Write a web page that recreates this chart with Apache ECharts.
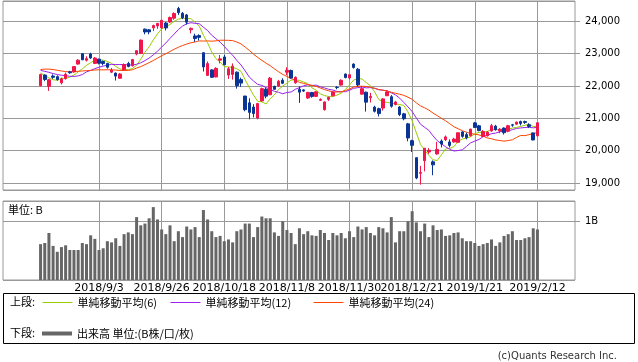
<!DOCTYPE html>
<html><head><meta charset="utf-8">
<script src="https://cdn.jsdelivr.net/npm/echarts@6/dist/echarts.min.js"></script>
<style>html,body{margin:0;padding:0;background:#fff}#c{width:638px;height:362px}</style>
</head><body><div id="c"></div>
<script>
const dates = [
"2018/8/14","2018/8/15","2018/8/16","2018/8/17","2018/8/20","2018/8/21","2018/8/22","2018/8/23","2018/8/24","2018/8/27","2018/8/28","2018/8/29","2018/8/30","2018/8/31",
"2018/9/3","2018/9/4","2018/9/5","2018/9/6","2018/9/7","2018/9/10","2018/9/11","2018/9/12","2018/9/13","2018/9/14","2018/9/18","2018/9/19","2018/9/20","2018/9/21","2018/9/25","2018/9/26","2018/9/27","2018/9/28",
"2018/10/1","2018/10/2","2018/10/3","2018/10/4","2018/10/5","2018/10/9","2018/10/10","2018/10/11","2018/10/12","2018/10/15","2018/10/16","2018/10/17","2018/10/18","2018/10/19","2018/10/22","2018/10/23","2018/10/24","2018/10/25","2018/10/26","2018/10/29","2018/10/30","2018/10/31",
"2018/11/1","2018/11/2","2018/11/5","2018/11/6","2018/11/7","2018/11/8","2018/11/9","2018/11/12","2018/11/13","2018/11/14","2018/11/15","2018/11/16","2018/11/19","2018/11/20","2018/11/21","2018/11/22","2018/11/26","2018/11/27","2018/11/28","2018/11/29","2018/11/30",
"2018/12/3","2018/12/4","2018/12/5","2018/12/6","2018/12/7","2018/12/10","2018/12/11","2018/12/12","2018/12/13","2018/12/14","2018/12/17","2018/12/18","2018/12/19","2018/12/20","2018/12/21","2018/12/25","2018/12/26","2018/12/27","2018/12/28",
"2019/1/4","2019/1/7","2019/1/8","2019/1/9","2019/1/10","2019/1/11","2019/1/15","2019/1/16","2019/1/17","2019/1/18","2019/1/21","2019/1/22","2019/1/23","2019/1/24","2019/1/25","2019/1/28","2019/1/29","2019/1/30","2019/1/31",
"2019/2/1","2019/2/4","2019/2/5","2019/2/6","2019/2/7","2019/2/8","2019/2/12"];

const opens = [22010,22340,21990,22310,22290,22100,22230,22440,22440,22680,
23000,22800,22990,22700,22830,22760,22700,22430,22400,22240,
22500,22700,22630,22990,23010,23760,23740,23800,23860,23800,
23950,23980,24100,24400,24250,24200,23740,23550,23560,23030,
22330,22500,22280,22800,22900,22340,22360,22430,22200,21690,
21480,21350,21010,21540,21900,21730,21990,22000,22180,22430,
22480,22100,21900,21880,21630,21800,21680,21560,21270,21590,
21700,21960,22030,22370,22250,22680,22520,21750,21810,21640,
21350,21300,21320,21700,21670,21430,21350,21140,20830,20310,
19785,19300,19690,19960,19655,19900,20300,20340,20270,20270,
20260,20580,20500,20460,20860,20770,20440,20460,20610,20760,
20610,20700,20600,20800,20820,20900,20900,20800,20550,20460];

const highs = [22380,22360,22220,22360,22330,22260,22420,22470,22620,22830,
23020,22920,23030,22900,22850,22790,22720,22560,22420,22400,
22700,22750,22840,23100,23440,23780,23760,23900,23950,24040,
23980,24150,24280,24450,24290,24230,23810,23620,23600,23050,
22760,22520,22580,22960,22960,22590,22700,22450,22260,21700,
21620,21440,21480,21950,21950,22280,22010,22190,22240,22580,
22510,22300,21990,21900,21820,21820,21840,21620,21520,21670,
21840,22000,22210,22390,22360,22700,22560,22000,21830,21790,
21390,21330,21620,21860,21720,21540,21380,21170,20860,20340,
19785,19530,20080,20080,19700,20270,20350,20470,20350,20400,
20560,20600,20560,20680,20890,20800,20640,20600,20830,20800,
20700,20720,20800,20830,20900,20930,20930,20850,20560,20880];

const lows = [21990,22150,21850,22220,22170,22050,22200,22380,22410,22660,
22800,22760,22840,22680,22670,22640,22540,22400,22170,22230,
22480,22580,22600,22950,22990,23600,23600,23700,23770,23770,
23720,23950,24050,24200,24070,23900,23630,23370,23410,22450,
22320,22250,22270,22700,22650,22220,22200,21920,21980,21220,
20970,21030,20970,21520,21620,21720,21890,21970,22060,22340,
22230,22070,21480,21820,21600,21640,21660,21540,21240,21540,
21680,21900,22010,22240,22210,22540,21980,21740,21210,21490,
21180,21060,21240,21690,21330,21400,21070,20940,20290,19960,
19117,18948,19360,19900,19241,19880,20100,20300,20100,20250,
20250,20400,20350,20440,20700,20600,20430,20440,20590,20620,
20540,20500,20570,20740,20800,20780,20830,20700,20320,20440];

const closes = [22356,22204,22192,22270,22199,22220,22363,22411,22602,22800,
22813,22848,22870,22865,22707,22697,22581,22488,22307,22373,
22665,22605,22821,23095,23421,23673,23675,23870,23940,24034,
23797,24120,24246,24271,24111,23976,23784,23469,23506,22591,
22695,22271,22549,22841,22658,22532,22615,22011,22091,21269,
21185,21150,21457,21920,21688,22244,21899,22148,22086,22487,
22250,22270,21811,21846,21804,21680,21821,21583,21508,21647,
21812,21952,22177,22263,22351,22575,22036,21919,21502,21679,
21220,21148,21603,21816,21375,21507,21115,20988,20393,20166,
19156,19327,20078,20015,19562,20039,20204,20427,20164,20360,
20555,20443,20402,20666,20719,20623,20594,20575,20774,20649,
20665,20557,20773,20788,20884,20844,20874,20751,20333,20864];

const ma6 = [22403,22326,22251,22196,22180,22240,22241,22276,22344,22433,
22535,22640,22724,22800,22817,22800,22761,22701,22608,22526,
22519,22503,22543,22644,22830,23047,23215,23426,23612,23769,
23832,23906,24001,24068,24097,24087,24085,23976,23853,23573,
23337,23053,22847,22742,22601,22591,22578,22534,22458,22196,
21951,21720,21527,21512,21445,21607,21726,21893,21998,22092,
22186,22190,22175,22125,22078,21944,21872,21758,21707,21674,
21675,21721,21780,21893,22034,22188,22226,22220,22108,22010,
21822,21584,21512,21495,21474,21445,21427,21401,21199,20924,
20554,20191,20018,19856,19717,19696,19871,20054,20069,20126,
20292,20359,20392,20432,20524,20568,20575,20597,20659,20656,
20647,20636,20666,20701,20719,20752,20787,20819,20746,20758];

const ma12 = [22484,22455,22425,22385,22359,22334,22322,22301,22298,22314,
22357,22440,22483,22538,22581,22616,22648,22670,22666,22663,
22668,22652,22652,22673,22719,22786,22867,22965,23078,23207,
23331,23476,23608,23747,23854,23928,23958,23941,23927,23820,
23717,23570,23466,23359,23227,23082,22957,22794,22652,22469,
22276,22156,22052,22023,21951,21902,21838,21806,21762,21802,
21815,21899,21951,22009,22038,22018,22029,21974,21941,21899,
21877,21832,21826,21825,21870,21931,21950,21970,21944,21952,
21928,21886,21869,21857,21791,21728,21625,21492,21355,21209,
21014,20818,20723,20628,20458,20310,20213,20123,20043,19991,
20004,20028,20131,20243,20296,20347,20433,20478,20525,20544,
20585,20602,20620,20649,20689,20704,20717,20727,20706,20730];

const ma24 = [22512,22523,22524,22510,22489,22465,22449,22437,22445,22457,
22466,22477,22483,22496,22503,22501,22504,22502,22494,22482,
22483,22483,22505,22556,22601,22662,22724,22790,22863,22939,
22998,23069,23138,23199,23253,23300,23338,23364,23397,23392,
23397,23388,23398,23418,23417,23414,23406,23361,23305,23205,
23101,22988,22885,22796,22709,22630,22533,22444,22360,22298,
22234,22184,22113,22082,22045,22020,21990,21938,21890,21853,
21819,21817,21821,21862,21911,21970,21994,21994,21986,21963,
21934,21893,21873,21845,21808,21776,21747,21712,21653,21590,
21479,21385,21325,21257,21163,21084,21002,20925,20834,20742,
20680,20618,20573,20530,20510,20488,20446,20394,20369,20333,
20314,20296,20312,20338,20410,20473,20465,20496,20528,20562];

const volumes = [0.61,0.63,0.80,0.58,0.48,0.56,0.59,0.51,0.51,0.51,
0.63,0.61,0.76,0.70,0.51,0.54,0.66,0.64,0.71,0.58,
0.78,0.81,0.78,1.07,0.93,0.96,1.05,1.24,1.03,0.86,
0.78,0.93,0.66,0.83,0.73,0.91,0.86,0.90,0.73,1.19,
1.03,0.83,0.73,0.75,0.66,0.69,0.64,0.83,0.86,0.96,
0.96,0.73,0.90,1.08,1.05,1.05,0.81,0.75,1.00,0.85,
0.80,0.61,0.88,0.78,0.83,0.76,0.75,0.85,0.80,0.68,
0.80,0.76,0.80,0.71,0.83,0.73,0.91,0.86,0.90,0.80,
0.76,0.90,0.88,0.81,1.07,0.64,0.83,0.83,1.00,1.17,
0.98,0.83,0.96,0.73,0.93,0.85,0.86,0.75,0.76,0.80,
0.81,0.71,0.66,0.66,0.63,0.58,0.61,0.63,0.69,0.58,
0.64,0.75,0.78,0.83,0.68,0.68,0.71,0.73,0.88,0.86];

const tickLabels = ['2018/9/3','2018/9/26','2018/10/18','2018/11/8','2018/11/30','2018/12/21','2019/1/21','2019/2/12'];
const seriesNames = ['単純移動平均(6)','単純移動平均(12)','単純移動平均(24)','出来高 単位:(B株/口/枚)'];
const seriesColors = ['#99cc00', '#9922ee', '#ff4400', '#666666'];

// empty slots on both sides of the date axis (layout only)
const padBefore = 9, padAfter = 9;
const cats = Array.from({length: padBefore}, (_, i) => 'pre' + i)
  .concat(dates, Array.from({length: padAfter}, (_, i) => 'post' + i));

const isTick = (i, v) => tickLabels.indexOf(v) >= 0;
const GRID = '#999';
const CJK = '"Noto Sans CJK JP", "DejaVu Sans", sans-serif';
const NUM = '"DejaVu Sans", sans-serif';

const chart = echarts.init(document.getElementById('c'), null, {renderer: 'canvas'});
function legendFor(k, left, top, extra) {
  return Object.assign({
    data: [seriesNames[k]], left: left, top: top,
    orient: 'horizontal', padding: 0, itemWidth: 30, itemHeight: 10,
    selectedMode: false,
    itemStyle: {opacity: 0},
    lineStyle: {width: 1, color: seriesColors[k]},
    textStyle: {fontSize: 11, fontFamily: CJK, color: '#000'}
  }, extra || {});
}
function maSeries(k, values) {
  return {name: seriesNames[k], type: 'line', xAxisIndex: 0, yAxisIndex: 0,
    symbol: 'none', showSymbol: false, silent: true, z: 2,
    data: dates.map((d, i) => [d, values[i]]),
    lineStyle: {width: 1, color: seriesColors[k]}, itemStyle: {color: seriesColors[k]}};
}
chart.setOption({
  animation: false,
  backgroundColor: '#fff',
  grid: [
    {left: 3, width: 572, top: 1, height: 189, show: true, borderColor: GRID, borderWidth: 1},
    {left: 3, width: 572, top: 201, height: 79, show: true, borderColor: GRID, borderWidth: 1}
  ],
  xAxis: [
    {type: 'category', gridIndex: 0, data: cats, boundaryGap: false,
     axisLine: {show: false}, axisTick: {show: false}, axisLabel: {show: false},
     splitLine: {show: true, interval: isTick, lineStyle: {color: GRID, width: 1}}},
    {type: 'category', gridIndex: 1, data: cats, boundaryGap: false,
     axisLine: {show: false}, axisTick: {show: false},
     axisLabel: {show: true, interval: isTick, fontSize: 11, fontFamily: NUM, color: '#000', margin: 3},
     splitLine: {show: true, interval: isTick, lineStyle: {color: GRID, width: 1}}}
  ],
  yAxis: [
    {type: 'value', gridIndex: 0, position: 'right', min: 18784, max: 24631,
     minInterval: 1000, maxInterval: 1000, scale: true,
     axisLine: {show: false},
     axisTick: {show: true, length: 5, lineStyle: {color: GRID}},
     axisLabel: {showMinLabel: false, showMaxLabel: false, margin: 10, fontSize: 10, fontFamily: NUM, color: '#000',
       formatter: v => Number(v).toLocaleString('en-US')},
     splitLine: {show: true, lineStyle: {color: GRID, width: 1}}},
    {type: 'value', gridIndex: 1, position: 'right', min: 0, max: 1.344,
     minInterval: 1, maxInterval: 1,
     axisLine: {show: false},
     axisTick: {show: true, length: 5, lineStyle: {color: GRID}},
     axisLabel: {showMinLabel: false, showMaxLabel: false, margin: 10, fontSize: 10, fontFamily: NUM, color: '#000',
       formatter: v => (v === 1 ? '1B' : '')},
     splitLine: {show: true, lineStyle: {color: GRID, width: 1}}}
  ],
  legend: [
    legendFor(0, 42, 297),
    legendFor(1, 170, 297),
    legendFor(2, 313, 297),
    legendFor(3, 42, 328, {icon: 'rect', itemHeight: 4, itemStyle: {color: seriesColors[3]}, lineStyle: {}})
  ],
  graphic: [
    {type: 'rect', silent: true, shape: {x: 3.5, y: 293.5, width: 631, height: 50},
     style: {fill: 'none', stroke: '#000', lineWidth: 1}},
    {type: 'text', silent: true, x: 10, y: 302, style: {text: '上段:', font: '11px ' + CJK, fill: '#000', verticalAlign: 'middle'}},
    {type: 'text', silent: true, x: 10, y: 333, style: {text: '下段:', font: '11px ' + CJK, fill: '#000', verticalAlign: 'middle'}},
    {type: 'text', silent: true, x: 8, y: 210, style: {text: '単位: B', font: '11px ' + CJK, fill: '#000', verticalAlign: 'middle'}},
    {type: 'text', silent: true, x: 617, y: 356, style: {text: '(c)Quants Research Inc.', font: '10px ' + NUM, fill: '#333', align: 'right', verticalAlign: 'middle'}}
  ],
  series: [
    maSeries(0, ma6),
    maSeries(1, ma12),
    maSeries(2, ma24),
    {name: 'price', type: 'candlestick', xAxisIndex: 0, yAxisIndex: 0, z: 3, barWidth: 3,
     encode: {x: 0, y: [1, 2, 3, 4]},
     data: dates.map((d, i) => [d, opens[i], closes[i], lows[i], highs[i]]),
     itemStyle: {color: '#f0164b', color0: '#0a3594', borderColor: '#f0164b', borderColor0: '#0a3594', borderWidth: 1}},
    {name: seriesNames[3], type: 'bar', xAxisIndex: 1, yAxisIndex: 1, barWidth: 3, silent: true,
     data: dates.map((d, i) => [d, volumes[i]]), itemStyle: {color: seriesColors[3]}}
  ]
});
</script>
</body></html>
